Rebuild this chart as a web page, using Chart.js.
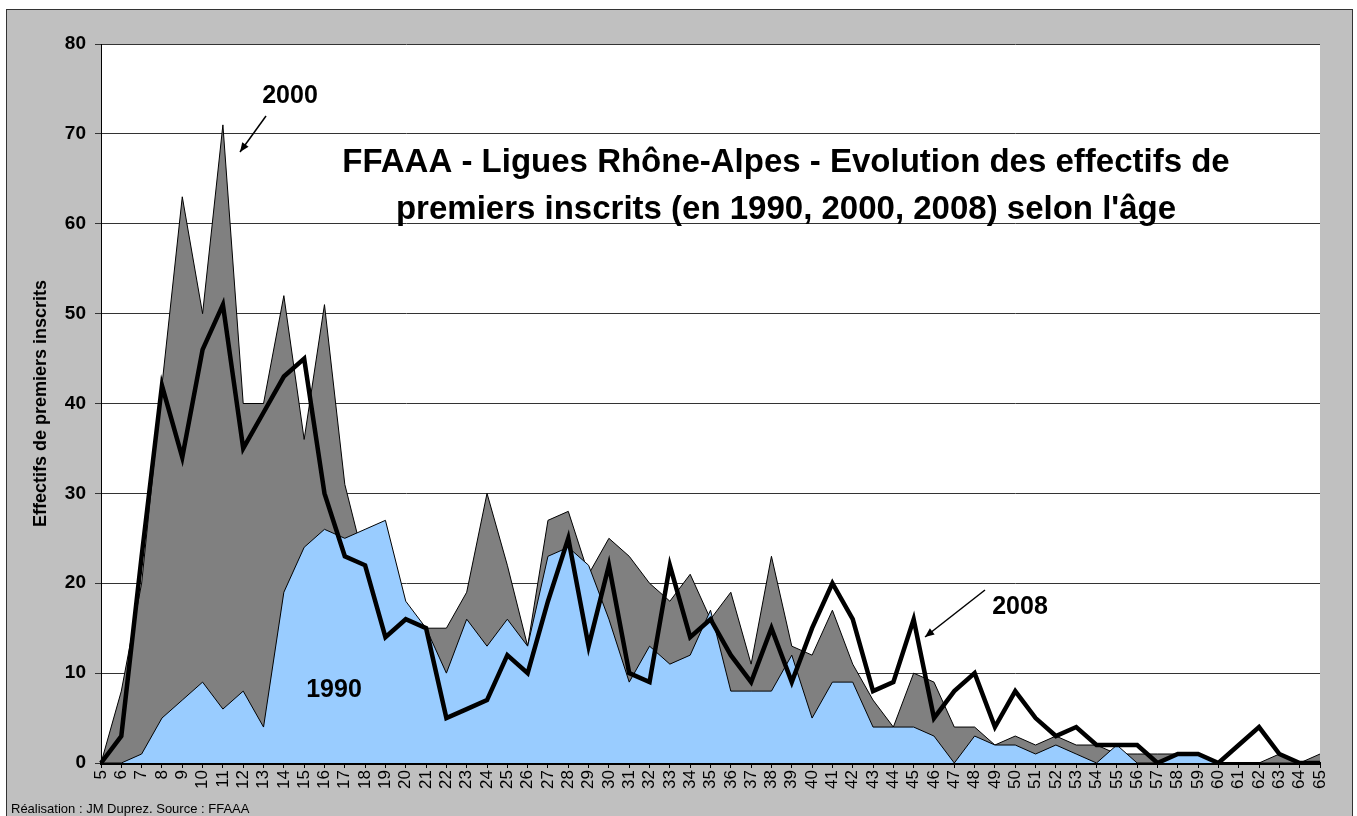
<!DOCTYPE html>
<html>
<head>
<meta charset="utf-8">
<script src="https://cdn.jsdelivr.net/npm/chart.js@4.4.0/dist/chart.umd.min.js"></script>
<style>
  body { margin: 0; background: #fff; }
  #wrap { width: 1357px; height: 816px; position: relative; }
</style>
</head>
<body>
<div id="wrap"><canvas id="myChart"></canvas></div>
<script>
// ages 5..65
var ages = [];
for (var a = 5; a <= 65; a++) ages.push(String(a));

var y2000 = [0, 8, 20, 42, 63, 50, 71, 40, 40, 52, 36, 51, 31, 22, 19, 17, 15, 15, 19, 30,
             22, 13, 27, 28, 21, 25, 23, 20, 18, 21, 16, 19, 11, 23, 13, 12, 17, 11, 7, 4,
             10, 9, 4, 4, 2, 3, 2, 3, 2, 2, 1, 1, 1, 1, 1, 0, 0, 0, 1, 0, 1];
var y1990 = [0, 0, 1, 5, 7, 9, 6, 8, 4, 19, 24, 26, 25, 26, 27, 18, 15, 10, 16, 13,
             16, 13, 23, 24, 22, 16, 9, 13, 11, 12, 17, 8, 8, 8, 12, 5, 9, 9, 4, 4,
             4, 3, 0, 3, 2, 2, 1, 2, 1, 0, 2, 0, 0, 1, 1, 0, 0, 0, 0, 0, 0];
var y2008 = [0, 3, 23, 42, 34, 46, 51, 35, 39, 43, 45, 30, 23, 22, 14, 16, 15, 5, 6, 7,
             12, 10, 18, 25, 13, 22, 10, 9, 22, 14, 16, 12, 9, 15, 9, 15, 20, 16, 8, 9,
             16, 5, 8, 10, 4, 8, 5, 3, 4, 2, 2, 2, 0, 1, 1, 0, 2, 4, 1, 0, 0];

var yTicks = [0, 10, 20, 30, 40, 50, 60, 70, 80];

// background frame + white plot area
const frame = {
  id: 'frame',
  beforeDraw(chart) {
    const c = chart.ctx, ca = chart.chartArea;
    c.save();
    c.fillStyle = '#fff';
    c.fillRect(0, 0, chart.width, chart.height);
    c.fillStyle = '#c0c0c0';
    c.fillRect(6, 9, 1346, 820);
    c.strokeStyle = '#333';
    c.lineWidth = 1;
    c.strokeRect(6.5, 9.5, 1346, 820);
    c.fillStyle = '#fff';
    c.fillRect(ca.left, ca.top, ca.right - ca.left, ca.bottom - ca.top);
    c.restore();
  }
};

function arrow(c, x1, y1, x2, y2) {
  c.beginPath();
  c.moveTo(x1, y1);
  c.lineTo(x2, y2);
  c.stroke();
  const ang = Math.atan2(y2 - y1, x2 - x1);
  c.beginPath();
  c.moveTo(x2, y2);
  c.lineTo(x2 - 10 * Math.cos(ang - 0.4), y2 - 10 * Math.sin(ang - 0.4));
  c.lineTo(x2 - 10 * Math.cos(ang + 0.4), y2 - 10 * Math.sin(ang + 0.4));
  c.closePath();
  c.fill();
}

const notes = {
  id: 'notes',
  afterDraw(chart) {
    const c = chart.ctx;
    c.save();
    c.fillStyle = '#000';
    c.strokeStyle = '#000';
    c.lineWidth = 1.5;
    c.textAlign = 'center';
    c.textBaseline = 'middle';
    c.font = 'bold 33px Arial, "Liberation Sans"';
    c.fillText("FFAAA - Ligues Rhône-Alpes - Evolution des effectifs de", 786, 163);
    c.fillText("premiers inscrits (en 1990, 2000, 2008) selon l'âge", 786, 210);
    c.font = 'bold 25px Arial, "Liberation Sans"';
    c.fillText('2000', 290, 96);
    c.fillText('2008', 1020, 607);
    c.fillText('1990', 334, 690);
    arrow(c, 266, 116, 240, 152);
    arrow(c, 985, 590, 925, 637);
    c.textAlign = 'left';
    c.font = '13px Arial, "Liberation Sans"';
    c.fillText('Réalisation : JM Duprez. Source : FFAAA', 11, 809);
    c.restore();
  }
};

new Chart(document.getElementById('myChart'), {
  type: 'line',
  data: {
    labels: ages,
    datasets: [
      {
        label: '2008',
        data: y2008,
        borderColor: '#000',
        borderWidth: 4.5,
        fill: false,
        pointRadius: 0,
        order: 0
      },
      {
        label: '1990',
        data: y1990,
        borderColor: '#000',
        borderWidth: 1,
        backgroundColor: '#99ccff',
        fill: 'origin',
        pointRadius: 0,
        order: 1
      },
      {
        label: '2000',
        data: y2000,
        borderColor: '#000',
        borderWidth: 1,
        backgroundColor: '#808080',
        fill: 'origin',
        pointRadius: 0,
        order: 2
      }
    ]
  },
  options: {
    responsive: true,
    maintainAspectRatio: false,
    animation: false,
    layout: { padding: { left: 0, top: 44, right: 37, bottom: 0 } },
    plugins: {
      legend: { display: false },
      tooltip: { enabled: false }
    },
    scales: {
      x: {
        offset: false,
        afterFit: function (s) { s.height = 53; },
        grid: { display: true, drawOnChartArea: false, drawTicks: true, tickLength: 5, color: '#000' },
        border: { display: true, color: '#000', width: 3 },
        ticks: {
          autoSkip: false,
          maxRotation: 90,
          minRotation: 90,
          padding: 2,
          color: '#000',
          font: { family: 'Arial, "Liberation Sans"', size: 17 }
        }
      },
      y: {
        min: 0,
        max: 80,
        afterFit: function (s) { s.width = 101; },
        afterBuildTicks: function (s) { s.ticks = yTicks.map(function (v) { return { value: v }; }); },
        grid: { color: '#333', lineWidth: 1, tickLength: 6 },
        border: { display: true, color: '#000', width: 1 },
        ticks: {
          padding: 9,
          color: '#000',
          font: { family: 'Arial, "Liberation Sans"', size: 19, weight: 'bold' }
        },
        title: {
          display: true,
          text: 'Effectifs de premiers inscrits',
          color: '#000',
          padding: { top: 30, bottom: 0 },
          font: { family: 'Arial, "Liberation Sans"', size: 18, weight: 'bold' }
        }
      }
    }
  },
  plugins: [frame, notes]
});
</script>
</body>
</html>
